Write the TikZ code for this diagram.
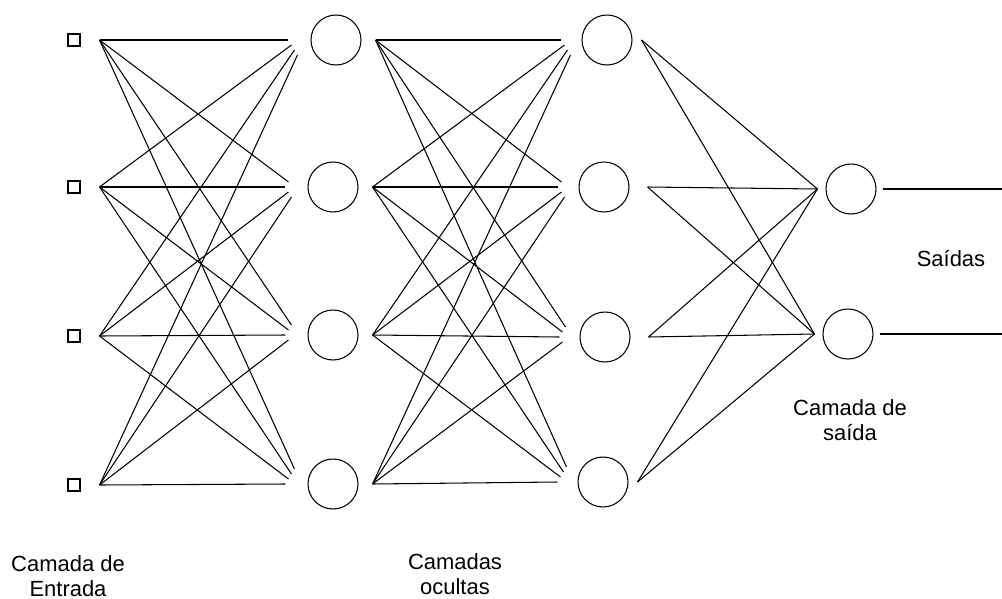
\documentclass[tikz,border=0pt]{standalone}
\usepackage{fontspec}
\setmainfont{Liberation Sans}
\usetikzlibrary{calc}

\begin{document}
\begin{tikzpicture}[x=0.02cm, y=-0.02cm, line width=0.6pt,
  every node/.style={font=\fontsize{12.5}{14.2}\selectfont, align=center},
  entrada/.style={draw, rectangle, minimum size=0.24cm, inner sep=0pt},
  neuronio/.style={draw, circle, minimum size=1cm, inner sep=0pt}]
\useasboundingbox (0,0) rectangle (1002,599);
% camada de entrada
\node[entrada] (x1) at (74,40) {};
\node[entrada] (x2) at (74,187) {};
\node[entrada] (x3) at (74,336) {};
\node[entrada] (x4) at (74,485) {};
% camadas ocultas
\node[neuronio] (a1) at (336,40) {};
\node[neuronio] (a2) at (333,187) {};
\node[neuronio] (a3) at (333,335) {};
\node[neuronio] (a4) at (333,484) {};
\node[neuronio] (b1) at (607,40) {};
\node[neuronio] (b2) at (604,187) {};
\node[neuronio] (b3) at (605,337) {};
\node[neuronio] (b4) at (603,482) {};
% camada de saida
\node[neuronio] (y1) at (851,189) {};
\node[neuronio] (y2) at (848,334) {};
\coordinate (s1) at (1002,189);
\coordinate (s2) at (1002,334);
% ligacoes
\foreach \i in {1,...,4}{
  \foreach \j in {1,...,4}{
    \pgfmathsetmacro{\dx}{3*abs(\j-\i)}
    \pgfmathsetmacro{\dy}{5*(\j-\i)}
    \draw ([shift={(19,0)}]x\j.east) -- ([shift={(-22+\dx,\dy)}]a\i.west);
    \draw ([shift={(14,0)}]a\j.east) -- ([shift={(-20+\dx,\dy)}]b\i.west);
  }
}
\foreach \i in {1,2}{
  \foreach \j/\s in {1/9,2/18,3/18,4/9}{
    \draw ([shift={(\s,0)}]b\j.east) -- ([shift={(-8,0)}]y\i.west);
  }
}
\draw ([shift={(6,0)}]y1.east) -- (s1);
\draw ([shift={(6,0)}]y2.east) -- (s2);
% textos
\node (saidas) at (951,259) {Saídas};
\node (lsaida) at (850,420) {Camada de\\saída};
\node (lentrada) at (68,576) {Camada de\\Entrada};
\node (locultas) at (455,574) {Camadas\\ocultas};
\end{tikzpicture}
\end{document}
